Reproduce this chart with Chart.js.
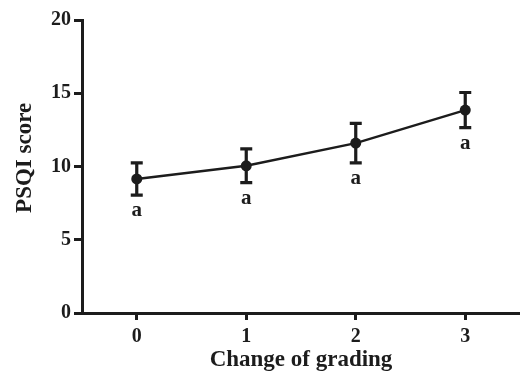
<!DOCTYPE html>
<html>
<head>
<meta charset="utf-8">
<script src="https://cdn.jsdelivr.net/npm/chart.js@4/dist/chart.umd.min.js"></script>
<style>
html,body{margin:0;padding:0;background:#fff;}
#wrap{width:520px;height:374px;position:relative;}
</style>
</head>
<body>
<div id="wrap"><canvas id="c" width="520" height="374"></canvas></div>
<script>
const categories = [0, 1, 2, 3];
const meanScores = [9.15, 10.05, 11.6, 13.85];
const errorValues = [1.1, 1.15, 1.35, 1.2];
const groupLetters = ['a', 'a', 'a', 'a'];
const yTicks = [0, 5, 10, 15, 20];

const INK = '#1c1c1c';
const FONT = "'Liberation Serif', 'Times New Roman', serif";

const errorBarPlugin = {
  id: 'errorBars',
  afterDatasetsDraw(chart) {
    const ctx = chart.ctx;
    const xs = chart.scales.x, ys = chart.scales.y;
    ctx.save();
    ctx.strokeStyle = INK;
    ctx.fillStyle = INK;
    ctx.lineWidth = 3.2;
    ctx.lineCap = 'butt';
    categories.forEach((c, i) => {
      const x = xs.getPixelForValue(c);
      const yt = ys.getPixelForValue(meanScores[i] + errorValues[i]);
      const yb = ys.getPixelForValue(meanScores[i] - errorValues[i]);
      ctx.beginPath();
      ctx.moveTo(x, yt); ctx.lineTo(x, yb);
      ctx.moveTo(x - 6, yt); ctx.lineTo(x + 6, yt);
      ctx.moveTo(x - 6, yb); ctx.lineTo(x + 6, yb);
      ctx.stroke();
      ctx.font = "bold 21px " + FONT;
      ctx.textAlign = 'center';
      ctx.textBaseline = 'alphabetic';
      ctx.fillText(groupLetters[i], x, yb + 21);
    });
    ctx.restore();
  }
};

new Chart(document.getElementById('c'), {
  type: 'line',
  data: {
    datasets: [{
      data: categories.map((c, i) => ({x: c, y: meanScores[i]})),
      borderColor: INK,
      backgroundColor: INK,
      borderWidth: 2.4,
      pointRadius: 5.5,
      pointBackgroundColor: INK,
      pointBorderWidth: 0,
      tension: 0,
      clip: false
    }]
  },
  options: {
    responsive: false,
    animation: false,
    devicePixelRatio: 1,
    layout: {autoPadding: false, padding: {top: 20, right: 0, left: 0, bottom: 0}},
    plugins: {legend: {display: false}, tooltip: {enabled: false}},
    scales: {
      x: {
        type: 'linear',
        min: -0.5,
        max: 3.5,
        afterBuildTicks: a => { a.ticks = categories.map(v => ({value: v})); },
        afterFit: s => { s.height = 61; },
        border: {display: true, width: 3, color: INK},
        grid: {drawOnChartArea: false, drawTicks: true, tickLength: 7, color: INK, lineWidth: 3},
        ticks: {color: INK, font: {family: FONT, size: 20, weight: 'bold'}, padding: 5},
        title: {display: true, text: 'Change of grading', color: INK, font: {family: FONT, size: 23, weight: 'bold'}, padding: {top: 0, bottom: 0}}
      },
      y: {
        min: 0,
        max: 20,
        afterBuildTicks: a => { a.ticks = yTicks.map(v => ({value: v})); },
        afterFit: s => { s.width = 82; },
        border: {display: true, width: 3, color: INK},
        grid: {drawOnChartArea: false, drawTicks: true, tickLength: 8, color: INK, lineWidth: 3},
        ticks: {color: INK, font: {family: FONT, size: 20, weight: 'bold'}, padding: 3},
        title: {display: true, text: '\u00a0\u00a0\u00a0PSQI score', color: INK, font: {family: FONT, size: 23, weight: 'bold'}, padding: {top: 11, bottom: 0}}
      }
    }
  },
  plugins: [errorBarPlugin]
});
</script>
</body>
</html>
